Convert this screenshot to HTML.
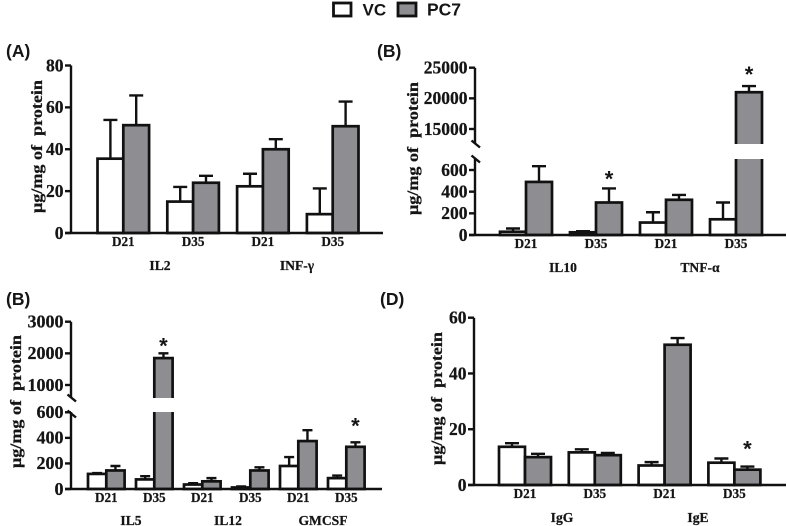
<!DOCTYPE html>
<html lang="en">
<head>
<meta charset="utf-8">
<title>Cytokine and immunoglobulin levels</title>
<style>
html,body{margin:0;padding:0;background:#fff;}
body{width:787px;height:526px;overflow:hidden;}
svg{display:block;filter:blur(0.3px);}
.serif{font-family:"Liberation Serif",serif;font-weight:bold;fill:#151515;stroke:#151515;stroke-width:0.25px;}
.sans{font-family:"Liberation Sans",sans-serif;font-weight:bold;fill:#151515;}
</style>
</head>
<body>
<svg id="chart" xmlns="http://www.w3.org/2000/svg" width="787" height="526" viewBox="0 0 787 526">
  <g>
    <rect x="333.5" y="3" width="17.5" height="13" fill="#fff" stroke="#111" stroke-width="2.8"/>
    <text class="sans" x="362.5" y="15.5" font-size="17">VC</text>
    <rect x="398" y="3" width="18" height="13" fill="#8e8e92" stroke="#111" stroke-width="2.8"/>
    <text class="sans" x="427" y="15.5" font-size="17.5">PC7</text>
  </g>
  <text class="sans" x="6" y="57" font-size="17.5">(A)</text>
  <text class="sans" x="377" y="57" font-size="17.5">(B)</text>
  <text class="sans" x="6" y="305" font-size="17.5">(B)</text>
  <text class="sans" x="380" y="305" font-size="17.5">(D)</text>
</svg>
<script>
// ---- Panel A data ----
const aDays = ["D21", "D35", "D21", "D35"];
const aGroups = ["IL2", "INF-γ"];
const aVC = [35.5, 15, 22.3, 9];
const aPC7 = [51.5, 24, 40, 51];
const aVCTop = [54, 22, 28.3, 21.3];
const aPC7Top = [65.7, 27.3, 44.8, 62.8];
const aTicks = [0, 20, 40, 60, 80];
const aStars = [];

// ---- Panel B data ----
const bDays = ["D21", "D35", "D21", "D35"];
const bGroups = ["IL10", "TNF-α"];
const bVC = [30, 25, 115, 145];
const bPC7 = [490, 300, 325, 21000];
const bVCTop = [60, 35, 210, 300];
const bPC7Top = [635, 430, 370, 22000];
const bTicks = [0, 200, 400, 600, 15000, 20000, 25000];
const bStars = [1, 3];

// ---- Panel C data ----
const cDays = ["D21", "D35", "D21", "D35", "D21", "D35"];
const cGroups = ["IL5", "IL12", "GMCSF"];
const cVC = [118, 75, 35, 12, 180, 85];
const cPC7 = [145, 1850, 60, 145, 375, 330];
const cVCTop = [125, 100, 45, 20, 250, 105];
const cPC7Top = [180, 2000, 85, 170, 460, 365];
const cTicks = [0, 200, 400, 600, 1000, 2000, 3000];
const cStars = [1, 5];

// ---- Panel D data ----
const dDays = ["D21", "D35", "D21", "D35"];
const dGroups = ["IgG", "IgE"];
const dVC = [13.7, 11.7, 7, 8];
const dPC7 = [10, 10.7, 50.3, 5.5];
const dVCTop = [15, 12.8, 8.2, 9.5];
const dPC7Top = [11.2, 11.5, 52.7, 6.6];
const dTicks = [0, 20, 40, 60];
const dStars = [3];

const NS = "http://www.w3.org/2000/svg";
const root = document.getElementById("chart");

function make(parent, tag, attrs, content) {
  const el = document.createElementNS(NS, tag);
  for (const k in attrs) el.setAttribute(k, attrs[k]);
  if (content !== undefined) el.textContent = content;
  parent.appendChild(el);
  return el;
}

// Linear axis, optionally split in two segments by a break.
function axisScale(g) {
  const low = v => g.y0 + (g.lowRef - g.y0) * v / g.lowRefValue;
  if (!g.broken) return low;
  const high = v => g.hiA + (g.hiB - g.hiA) * (v - g.hiAValue) / (g.hiBValue - g.hiAValue);
  return v => (v <= g.breakValue ? low(v) : high(v));
}

function drawPanel(key, g, days, groups, vc, pc7, vcTop, pc7Top, ticks, stars) {
  const panel = make(root, "g", {});
  
  
  const y = axisScale(g);
  const barLeft = i => g.first + i * g.pitch;

  days.forEach((day, i) => {
    [[vc, vcTop, "#fff", "vc", 0], [pc7, pc7Top, "#8e8e92", "pc7", 1]].forEach(s => {
      const x = barLeft(i) + s[4] * g.barW;
      const cx = x + g.barW / 2;
      const topY = y(s[1][i]);
      const valY = y(s[0][i]);
      const err = make(panel, "path", {
        d: "M" + cx + " " + valY + "V" + topY + "M" + (cx - g.cap / 2) + " " + topY + "H" + (cx + g.cap / 2),
        fill: "none", stroke: "#111", "stroke-width": 2.4
      });
      
      
      const bar = make(panel, "rect", {
        x: x, y: valY, width: g.barW, height: Math.max(0, g.y0 - valY),
        fill: s[2], stroke: "#111", "stroke-width": 2.7
      });
      
      
      if (g.broken && s[0][i] > g.breakValue) {
        const gap = make(panel, "rect", {
          x: x - 2, y: g.gapTop, width: g.barW + 4, height: g.gapBottom - g.gapTop, fill: "#fff"
        });
        
        
      }
    });
    const dayLabel = make(panel, "text", {
      class: "serif", x: barLeft(i) + g.barW, y: g.dayY, "font-size": 13.2, "text-anchor": "middle"
    }, day);
    
    
  });

  groups.forEach((name, i) => {
    const label = make(panel, "text", {
      class: "serif", x: g.groupX[i], y: g.groupY, "font-size": 13.6, "text-anchor": "middle"
    }, name);
    
    
  });

  // axes
  const segs = g.broken
    ? "M" + g.axisX + " " + y(ticks[ticks.length - 1]) + "V" + g.gapTop + "M" + g.axisX + " " + g.gapBottom + "V" + g.y0
    : "M" + g.axisX + " " + y(ticks[ticks.length - 1]) + "V" + g.y0;
  const yAxis = make(panel, "path", { d: segs, fill: "none", stroke: "#111", "stroke-width": 2.4 });
  
  
  const xAxis = make(panel, "line", {
    x1: g.axisX - 6, x2: g.axisEnd, y1: g.y0, y2: g.y0, stroke: "#111", "stroke-width": 2.4
  });
  
  

  if (g.broken) {
    [g.gapTop, g.gapBottom + g.slashShift].forEach(b => {
      const slash = make(panel, "line", {
        x1: g.axisX - 3.5, y1: b - 3.5, x2: g.axisX + 5, y2: b + 3.5, stroke: "#111", "stroke-width": 2.4
      });
      
      
    });
  }

  ticks.forEach(t => {
    const ty = y(t);
    const tick = make(panel, "line", {
      x1: g.axisX - 6, x2: g.axisX, y1: ty, y2: ty, stroke: "#111", "stroke-width": 2.4
    });
    
    
    const label = make(panel, "text", {
      class: "serif", x: g.axisX - 7.5, y: ty + 5.8, "font-size": g.tickSize, "text-anchor": "end"
    }, String(t));
    
    
  });

  const title = make(panel, "text", {
    class: "serif",
    transform: "translate(" + g.titleX + " " + g.titleBottom + ") rotate(-90)",
    "font-size": 15.5, textLength: 133, lengthAdjust: "spacingAndGlyphs"
  }, "μg/mg of\u00A0\u00A0protein");
  
  

  stars.forEach((idx, n) => {
    const star = make(panel, "text", {
      class: "sans",
      x: barLeft(idx) + g.barW * 1.5,
      y: y(pc7Top[idx]) - g.starLift[n],
      "font-size": 22, "text-anchor": "middle"
    }, "*");
    
    
  });
}

drawPanel("a",
  { axisX: 71, axisEnd: 383, y0: 233, lowRef: 65.5, lowRefValue: 80, first: 97.5, pitch: 69.8, barW: 25.8, cap: 14,
    tickSize: 17.5, dayY: 246, groupY: 270, groupX: [160, 297], titleX: 42, titleBottom: 213, starLift: [] },
  aDays, aGroups, aVC, aPC7, aVCTop, aPC7Top, aTicks, aStars);

drawPanel("b",
  { axisX: 475, axisEnd: 786, y0: 235, lowRef: 170, lowRefValue: 600, first: 500, pitch: 70, barW: 26, cap: 14,
    broken: true, breakValue: 700, hiA: 129, hiAValue: 15000, hiB: 67.7, hiBValue: 25000, gapTop: 144, gapBottom: 159, slashShift: 0,
    tickSize: 17.5, dayY: 248, groupY: 272, groupX: [563, 700], titleX: 418, titleBottom: 215, starLift: [2, 4] },
  bDays, bGroups, bVC, bPC7, bVCTop, bPC7Top, bTicks, bStars);

drawPanel("c",
  { axisX: 71, axisEnd: 382, y0: 489, lowRef: 412.3, lowRefValue: 600, first: 88, pitch: 48, barW: 18.3, cap: 10,
    broken: true, breakValue: 600, hiA: 385, hiAValue: 1000, hiB: 321.7, hiBValue: 3000, gapTop: 398, gapBottom: 412, slashShift: 2,
    tickSize: 18, dayY: 502, groupY: 525, groupX: [131, 228, 323], titleX: 21, titleBottom: 468, starLift: [0, 9] },
  cDays, cGroups, cVC, cPC7, cVCTop, cPC7Top, cTicks, cStars);

drawPanel("d",
  { axisX: 474, axisEnd: 786, y0: 485, lowRef: 317.7, lowRefValue: 60, first: 499, pitch: 69.8, barW: 26, cap: 14,
    tickSize: 17.5, dayY: 498, groupY: 522, groupX: [562, 698], titleX: 442, titleBottom: 465, starLift: [10] },
  dDays, dGroups, dVC, dPC7, dVCTop, dPC7Top, dTicks, dStars);
</script>
</body>
</html>
